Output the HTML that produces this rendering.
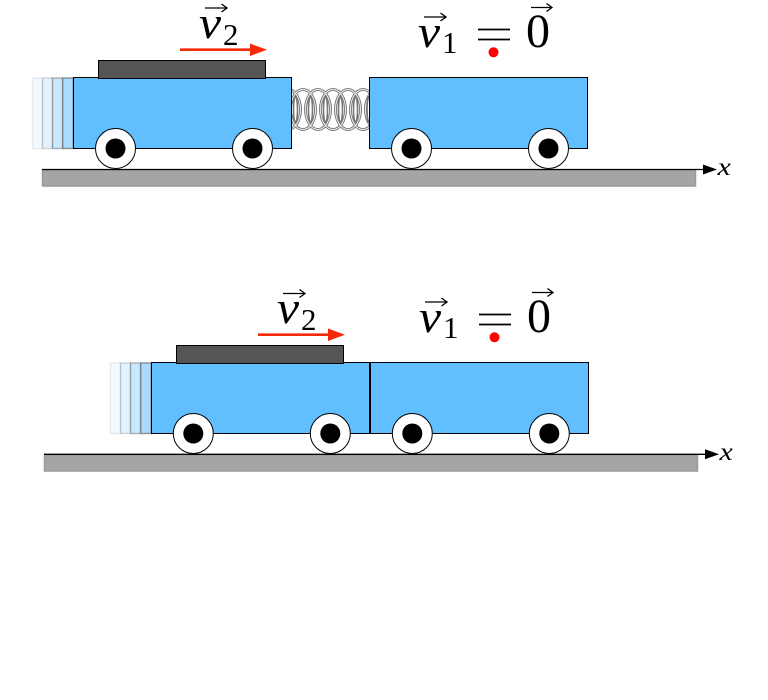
<!DOCTYPE html>
<html>
<head>
<meta charset="utf-8">
<style>
html,body{margin:0;padding:0;background:#fff;width:768px;height:700px;overflow:hidden}
svg{display:block}
text{font-family:"Liberation Serif",serif;fill:#000}
</style>
</head>
<body>
<svg width="768" height="700" viewBox="0 0 768 700" xmlns="http://www.w3.org/2000/svg">
<defs>
  <clipPath id="sp"><rect x="291" y="85" width="79" height="48"/></clipPath>
</defs>
<rect width="768" height="700" fill="#fff"/>

<!-- TOP SCENE -->
<g>
  <!-- ghosts -->
  <g stroke="#777" stroke-width="1.4">
    <rect x="32.5" y="78" width="10" height="70.5" fill="#61bfff" fill-opacity=".08" stroke-opacity=".15"/>
    <rect x="42.5" y="78" width="10" height="70.5" fill="#61bfff" fill-opacity=".18" stroke-opacity=".3"/>
    <rect x="52.5" y="78" width="10" height="70.5" fill="#61bfff" fill-opacity=".35" stroke-opacity=".55"/>
    <rect x="62.7" y="78" width="10.5" height="70.5" fill="#61bfff" fill-opacity=".55" stroke-opacity=".8"/>
  </g>
  <!-- spring -->
  <g clip-path="url(#sp)" fill="none">
    <g stroke="#666" stroke-width="2.8">
      <ellipse cx="288" cy="109.5" rx="12.5" ry="20"/><ellipse cx="303" cy="109.5" rx="12.5" ry="20"/>
      <ellipse cx="318" cy="109.5" rx="12.5" ry="20"/><ellipse cx="333" cy="109.5" rx="12.5" ry="20"/>
      <ellipse cx="348" cy="109.5" rx="12.5" ry="20"/><ellipse cx="363" cy="109.5" rx="12.5" ry="20"/>
      <ellipse cx="378" cy="109.5" rx="12.5" ry="20"/>
    </g>
    <g stroke="#e8e8e8" stroke-width="1.2">
      <ellipse cx="288" cy="109.5" rx="12.5" ry="20"/><ellipse cx="303" cy="109.5" rx="12.5" ry="20"/>
      <ellipse cx="318" cy="109.5" rx="12.5" ry="20"/><ellipse cx="333" cy="109.5" rx="12.5" ry="20"/>
      <ellipse cx="348" cy="109.5" rx="12.5" ry="20"/><ellipse cx="363" cy="109.5" rx="12.5" ry="20"/>
      <ellipse cx="378" cy="109.5" rx="12.5" ry="20"/>
    </g>
    <g stroke="#777" stroke-width="1.6">
      <ellipse cx="295.5" cy="109.5" rx="2" ry="13"/><ellipse cx="310.5" cy="109.5" rx="2" ry="13"/>
      <ellipse cx="325.5" cy="109.5" rx="2" ry="13"/><ellipse cx="340.5" cy="109.5" rx="2" ry="13"/>
      <ellipse cx="355.5" cy="109.5" rx="2" ry="13"/><ellipse cx="369" cy="109.5" rx="2" ry="13"/>
    </g>
  </g>
  <!-- ground -->
  <rect x="42.5" y="170" width="653" height="16" fill="#a5a5a5" stroke="#999" stroke-width="1.5"/>
  <line x1="42" y1="169.5" x2="706" y2="169.5" stroke="#000" stroke-width="1.3"/>
  <polygon points="703,164.5 717,169.5 703,174.5" fill="#000"/>
  <!-- carts -->
  <rect x="73.5" y="77.5" width="218" height="71" fill="#61bfff" stroke="#000" stroke-width="1"/>
  <rect x="369.5" y="77.5" width="218" height="71" fill="#61bfff" stroke="#000" stroke-width="1"/>
  <rect x="98.5" y="60.5" width="167" height="18" fill="#555" stroke="#000" stroke-width="1"/>
  <!-- wheels -->
  <g fill="#fff" stroke="#000" stroke-width="1">
    <circle cx="115.5" cy="148.5" r="20"/><circle cx="252.5" cy="148.5" r="20"/>
    <circle cx="411.5" cy="148.5" r="20"/><circle cx="548.5" cy="148.5" r="20"/>
  </g>
  <g fill="#000">
    <circle cx="115.5" cy="148.5" r="10"/><circle cx="252.5" cy="148.5" r="10"/>
    <circle cx="411.5" cy="148.5" r="10"/><circle cx="548.5" cy="148.5" r="10"/>
  </g>
  <!-- red arrow -->
  <line x1="180" y1="49.7" x2="254" y2="49.7" stroke="#f52a08" stroke-width="2.6"/>
  <polygon points="250,43.5 267,49.7 250,56" fill="#f52a08"/>
  <!-- labels -->
  <text transform="translate(199 38) scale(1.08 1)" font-size="46" font-style="italic">v</text>
  <text x="223" y="45" font-size="31">2</text>
  <path d="M205 8H226M221.5 4L227 8L221.5 12" fill="none" stroke="#000" stroke-width="1.3"/>
  <text transform="translate(418 47) scale(1.08 1)" font-size="46" font-style="italic">v</text>
  <text x="442" y="53" font-size="31">1</text>
  <path d="M424 17H445M440.5 13L446 17L440.5 21" fill="none" stroke="#000" stroke-width="1.3"/>
  <path d="M478 29.5H510M478 39.5H510" stroke="#000" stroke-width="1.7" fill="none"/>
  <text x="526" y="47" font-size="48">0</text>
  <path d="M531 7.5H551M546.5 3.5L552 7.5L546.5 11.5" fill="none" stroke="#000" stroke-width="1.3"/>
  <circle cx="493.5" cy="52.3" r="5" fill="#f00"/>
  <text transform="translate(717.5 175) scale(1.2 1)" font-size="25" font-style="italic">x</text>
</g>

<!-- BOTTOM SCENE -->
<g>
  <g stroke="#777" stroke-width="1.4">
    <rect x="110.5" y="363" width="10" height="70.5" fill="#61bfff" fill-opacity=".08" stroke-opacity=".15"/>
    <rect x="120.5" y="363" width="10" height="70.5" fill="#61bfff" fill-opacity=".18" stroke-opacity=".3"/>
    <rect x="130.5" y="363" width="10" height="70.5" fill="#61bfff" fill-opacity=".35" stroke-opacity=".55"/>
    <rect x="140.7" y="363" width="10.5" height="70.5" fill="#61bfff" fill-opacity=".55" stroke-opacity=".8"/>
  </g>
  <rect x="44.5" y="455" width="653" height="16" fill="#a5a5a5" stroke="#999" stroke-width="1.5"/>
  <line x1="44" y1="454.3" x2="708" y2="454.3" stroke="#000" stroke-width="1.3"/>
  <polygon points="705,449.3 719,454.3 705,459.3" fill="#000"/>
  <rect x="151.5" y="362.5" width="218" height="71" fill="#61bfff" stroke="#000" stroke-width="1"/>
  <rect x="370.5" y="362.5" width="218" height="71" fill="#61bfff" stroke="#000" stroke-width="1"/>
  <rect x="176.5" y="345.5" width="167" height="18" fill="#555" stroke="#000" stroke-width="1"/>
  <g fill="#fff" stroke="#000" stroke-width="1">
    <circle cx="193.3" cy="433.5" r="20"/><circle cx="330.3" cy="433.5" r="20"/>
    <circle cx="412.3" cy="433.5" r="20"/><circle cx="549.3" cy="433.5" r="20"/>
  </g>
  <g fill="#000">
    <circle cx="193.3" cy="433.5" r="10"/><circle cx="330.3" cy="433.5" r="10"/>
    <circle cx="412.3" cy="433.5" r="10"/><circle cx="549.3" cy="433.5" r="10"/>
  </g>
  <line x1="258" y1="334.7" x2="332" y2="334.7" stroke="#f52a08" stroke-width="2.6"/>
  <polygon points="328,328.5 345,334.7 328,341" fill="#f52a08"/>
  <text transform="translate(277 323) scale(1.08 1)" font-size="46" font-style="italic">v</text>
  <text x="301" y="330" font-size="31">2</text>
  <path d="M283 293.5H304M299.5 289.5L305 293.5L299.5 297.5" fill="none" stroke="#000" stroke-width="1.3"/>
  <text transform="translate(419 332) scale(1.08 1)" font-size="46" font-style="italic">v</text>
  <text x="443" y="338" font-size="31">1</text>
  <path d="M425 302H446M441.5 298L447 302L441.5 306" fill="none" stroke="#000" stroke-width="1.3"/>
  <path d="M479 314.5H511M479 324.5H511" stroke="#000" stroke-width="1.7" fill="none"/>
  <text x="527" y="332" font-size="48">0</text>
  <path d="M532 292.5H552M547.5 288.5L553 292.5L547.5 296.5" fill="none" stroke="#000" stroke-width="1.3"/>
  <circle cx="494.5" cy="337.3" r="5" fill="#f00"/>
  <text transform="translate(719.5 460) scale(1.2 1)" font-size="25" font-style="italic">x</text>
</g>
</svg>
</body>
</html>
